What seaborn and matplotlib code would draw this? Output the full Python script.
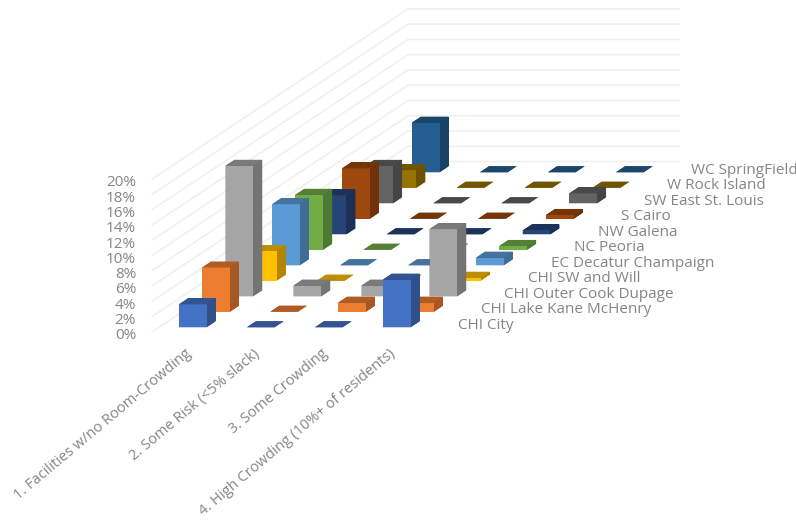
import numpy as np
import matplotlib
matplotlib.use("Agg")
import matplotlib.pyplot as plt
import seaborn as sns
from mpl_toolkits.mplot3d import Axes3D, proj3d  # noqa
from mpl_toolkits.mplot3d.art3d import Line3DCollection

categories = ["1. Facilities w/no Room-Crowding", "2. Some Risk (<5% slack)",
              "3. Some Crowding", "4. High Crowding (10%+ of residents)"]
regions = ["CHI City", "CHI Lake Kane McHenry", "CHI Outer Cook Dupage", "CHI SW and Will",
           "EC Decatur Champaign", "NC Peoria", "NW Galena", "S Cairo",
           "SW East St. Louis", "W Rock Island", "WC SpringField"]
chi_city = [3.0, 0.0, 0.0, 6.25]
chi_lake = [5.8, 0.0, 1.2, 1.2]
chi_outer = [17.1, 1.4, 1.4, 8.8]
chi_sw = [3.9, 0.0, 0.0, 0.4]
ec_decatur = [8.0, 0.0, 0.0, 1.0]
nc_peoria = [7.2, 0.0, 0.0, 0.5]
nw_galena = [5.1, 0.0, 0.0, 0.5]
s_cairo = [6.6, 0.0, 0.0, 0.5]
sw_east = [4.9, 0.0, 0.0, 1.3]
w_rock = [2.3, 0.0, 0.0, 0.0]
wc_spring = [6.5, 0.0, 0.0, 0.0]
series = [chi_city, chi_lake, chi_outer, chi_sw, ec_decatur, nc_peoria, nw_galena,
          s_cairo, sw_east, w_rock, wc_spring]
colors = ["#4472C4", "#ED7D31", "#A5A5A5", "#FFC000", "#5B9BD5", "#70AD47",
          "#264478", "#9E480E", "#636363", "#997300", "#255E91"]
y_ticks = list(range(0, 21, 2))

sns.set_theme(style="white")
plt.rcParams["font.family"] = ["Open Sans", "DejaVu Sans"]
palette = sns.color_palette(colors)

W, H = 796, 521
fig = plt.figure(figsize=(W / 100, H / 100), dpi=100, facecolor="white")
ax = fig.add_axes([0, 0, 1, 1], projection="3d", computed_zorder=False)
ax.set_axis_off()
ax.apply_aspect = lambda position=None: None
ax.viewLim.set_points(np.array([[0.0, 0.0], [W, H]], dtype=float))
ax.set_autoscale_on(False)

# Oblique projection used by the original chart: data -> figure pixels
OX, OY = 151.7, H - 332.0
CAT, SX, SY, PCT = 68.0, 23.3, 15.5, 7.63
M = np.array([[CAT, SX, 0.0, OX],
              [0.0, SY, PCT, OY],
              [-0.5, 1.0, -0.5, 0.0],
              [0.0, 0.0, 0.0, 1.0]])
ax.get_proj = lambda: M

nc, ns = len(categories), len(regions)
segments = [[(0, 0, t), (0, ns, t), (nc, ns, t)] for t in y_ticks]
walls = Line3DCollection(segments, colors="#f0f0f0", linewidths=1.2, zorder=1)
ax.add_collection3d(walls, autolim=False)

bw, bd = 0.407, 0.386
z = 10
for s in range(ns - 1, -1, -1):
    base = np.array(palette[s])
    side, top = base * 0.70, base * 0.74
    for c in range(nc):
        ax.bar3d(c + 0.296, s + 0.307, 0, bw, bd, series[s][c],
                 color=[top, top, base, side, side, side],
                 shade=False, linewidth=0, zorder=z)
        z += 1


def label(x, y, zv, s, size=11, **kw):
    px, py, _ = proj3d.proj_transform(x, y, zv, M)
    ax.text2D(px, py, s, transform=ax.transData, color="#858585", fontsize=size,
              zorder=500, **kw)


for t in y_ticks:
    label(-0.23, 0, t - 0.47, f"{t}%", ha="right", va="center")
for s, name in enumerate(regions):
    label(4.33, s + 0.5, -0.1, name, ha="left", va="center")
for c, name in enumerate(categories):
    label(c + 0.49, 0, -1.9, name, size=10.5, ha="right", va="top", rotation=40,
          rotation_mode="anchor")

fig.savefig("out.png", dpi=100, facecolor="white")
